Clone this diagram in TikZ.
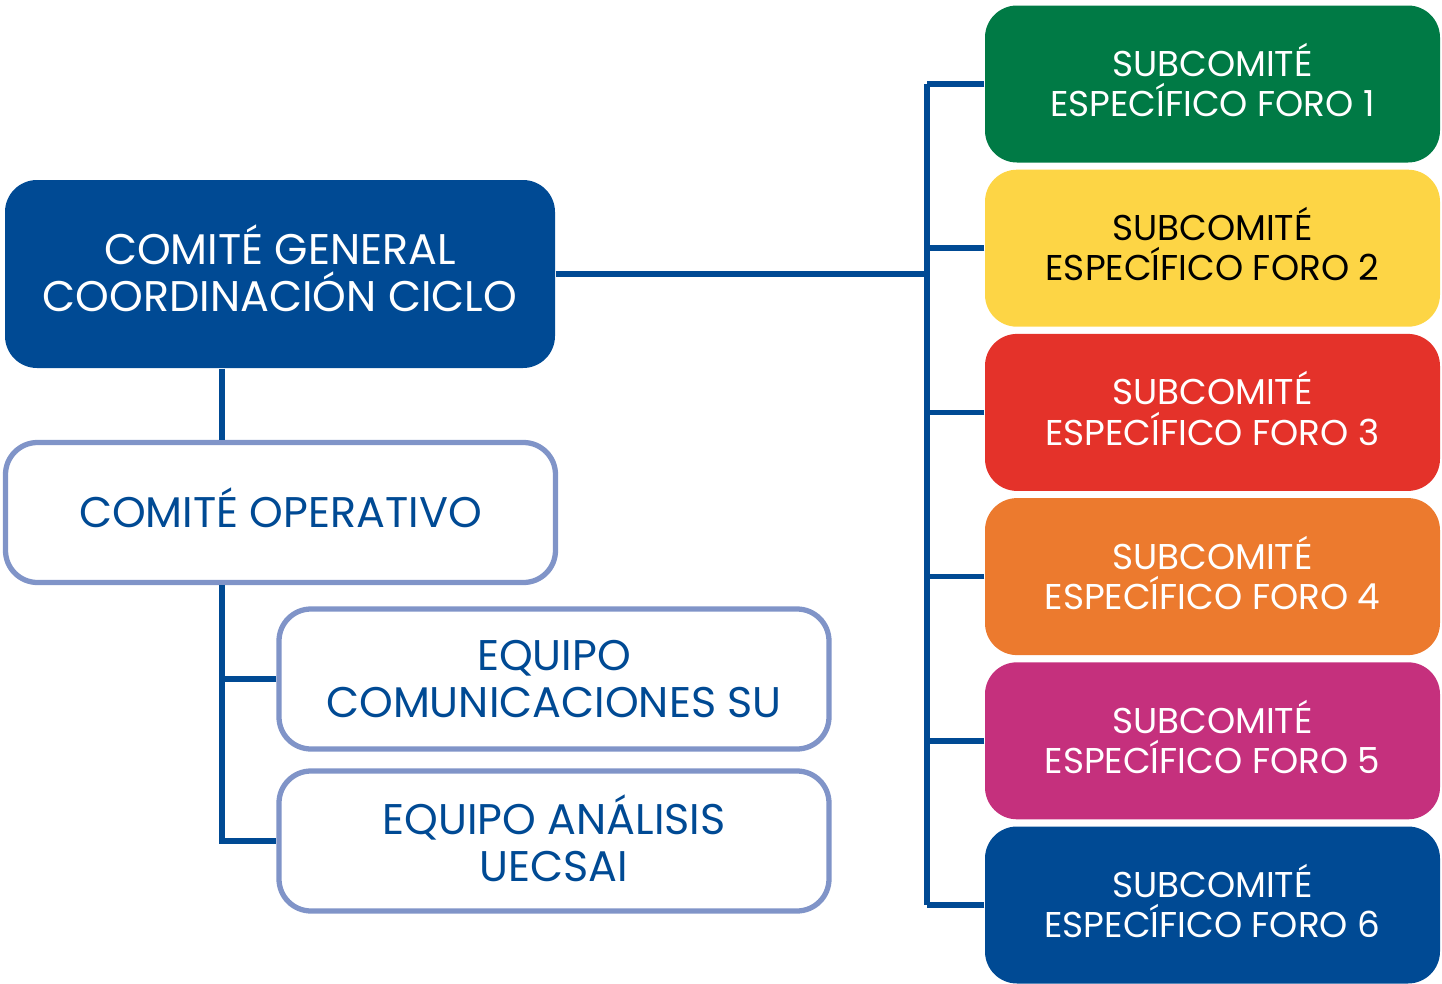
\documentclass[tikz,border=0pt]{standalone}
\usepackage{fontspec}
\setmainfont{Poppins}
\usetikzlibrary{positioning}
\definecolor{azul}{RGB}{0,74,148}
\definecolor{borde}{RGB}{128,148,200}
\definecolor{verde}{RGB}{0,122,69}
\definecolor{amarillo}{RGB}{253,213,69}
\definecolor{rojo}{RGB}{228,50,42}
\definecolor{naranja}{RGB}{236,122,46}
\definecolor{magenta}{RGB}{197,48,125}
\tikzset{
  caja/.style = {rounded corners=0.32cm, align=center, inner sep=0pt},
  general/.style = {caja, fill=azul, text=white, minimum width=5.5cm, minimum height=1.88cm,
    text depth=3.4pt, font=\fontsize{12.2}{13.3}\selectfont},
  blanca/.style = {caja, draw=borde, line width=1.5pt, fill=white, text=azul,
    minimum width=5.5cm, minimum height=1.4cm, font=\fontsize{12.2}{13.3}\selectfont},
  subcomite/.style = {caja, minimum width=4.55cm, minimum height=1.57cm,
    text depth=2.3pt, font=\fontsize{10.2}{11.4}\selectfont},
  linea/.style = {draw=azul, line width=1.6pt}
}

\begin{document}
\begin{tikzpicture}
  \useasboundingbox (0,0) rectangle (14.42,-9.84);
  % guides
  \coordinate (rama)   at (2.22,0);
  \coordinate (tronco) at (9.27,0);
  % left column
  \node[general] (coord) at (2.80,-2.74) {COMITÉ GENERAL\\COORDINACIÓN CICLO};
  \node[blanca, text depth=2.8pt] (operativo) at (2.805,-5.125) {COMITÉ OPERATIVO};
  \node[blanca] (comunic) at (5.54,-6.79) {EQUIPO\\COMUNICACIONES SU};
  \node[blanca, text depth=1.7pt] (analisis) at (5.54,-8.41) {EQUIPO ANÁLISIS\\UECSAI};
  % left connectors
  \draw[linea] (coord.south -| rama) -- (operativo.north -| rama);
  \draw[linea] (operativo.south -| rama) |- (analisis.west);
  \draw[linea] (comunic.west) -- (comunic.west -| rama);
  % subcommittees
  \foreach \i/\col/\txt in {1/verde/white, 2/amarillo/black, 3/rojo/white,
                            4/naranja/white, 5/magenta/white, 6/azul/white} {
    \node[subcomite, fill=\col, text=\txt] (s\i) at (12.125,{-0.84-1.642*(\i-1)})
      {SUBCOMITÉ\\ESPECÍFICO FORO \i};
    \draw[linea] (s\i.west) -- (s\i.west -| tronco);
  }
  % right connectors
  \draw[linea] (s1.west -| tronco) -- (s6.west -| tronco);
  \draw[linea] (coord.east) -- (coord.east -| tronco);
\end{tikzpicture}
\end{document}
